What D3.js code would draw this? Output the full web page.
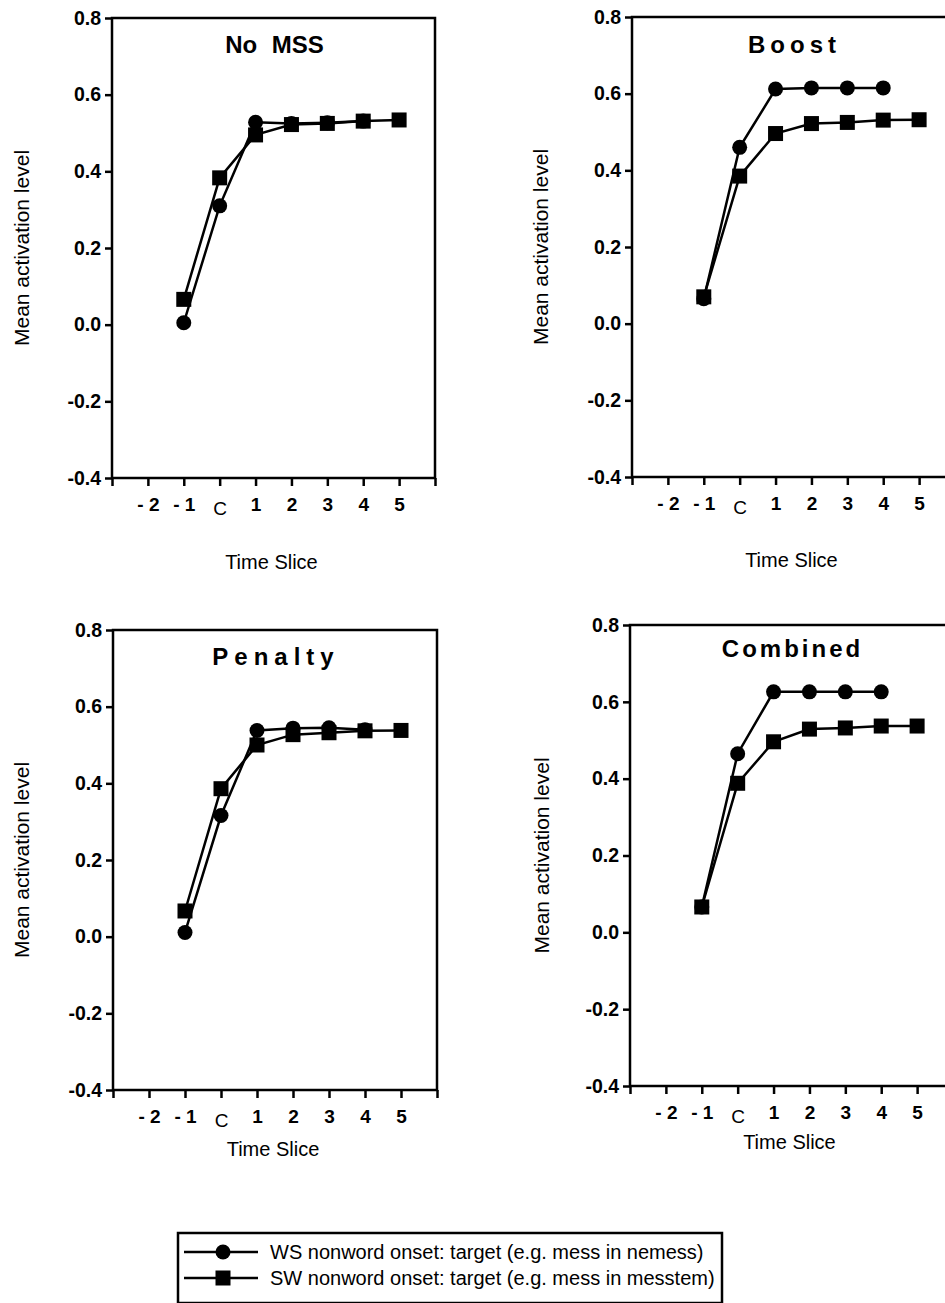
<html>
<head>
<script src="https://d3js.org/d3.v7.min.js"></script>
<style>
  body { margin: 0; background: #fff; }
  svg text { font-family: "Liberation Sans", Arial, sans-serif; fill: #000; }
  .tick line { stroke: #000; stroke-width: 2.5; }
  .tick text { font-weight: bold; }
  .yax .tick text { font-size: 19.5px; }
  .xax .tick text { font-size: 19px; }
</style>
</head>
<body>
<svg width="945" height="1303"></svg>
<script>
// time slices along x ("start"/"end" are the blank axis ends)
const sliceLabels = ["start", "-2", "-1", "C", "1", "2", "3", "4", "5", "end"];
const wsSlices = ["-1", "C", "1", "2", "3", "4"];
const swSlices = ["-1", "C", "1", "2", "3", "4", "5"];
const yTicks = [-0.4, -0.2, 0.0, 0.2, 0.4, 0.6, 0.8];
const panelTitles = ["No MSS", "Boost", "Penalty", "Combined"];
const seriesNames = ["WS nonword onset: target (e.g. mess in nemess)",
                     "SW nonword onset: target (e.g. mess in messtem)"];

// mean activation values
const wsNoMss    = [0.005, 0.310, 0.528, 0.525, 0.527, 0.531];
const swNoMss    = [0.066, 0.383, 0.495, 0.522, 0.525, 0.531, 0.534];
const wsBoost    = [0.065, 0.460, 0.612, 0.615, 0.615, 0.615];
const swBoost    = [0.070, 0.385, 0.496, 0.522, 0.525, 0.531, 0.532];
const wsPenalty  = [0.011, 0.316, 0.538, 0.544, 0.545, 0.540];
const swPenalty  = [0.067, 0.386, 0.500, 0.527, 0.532, 0.537, 0.538];
const wsCombined = [0.066, 0.465, 0.626, 0.626, 0.626, 0.626];
const swCombined = [0.066, 0.388, 0.496, 0.529, 0.532, 0.537, 0.537];

const svg = d3.select("svg");

// layout of the four panels
const panels = [
  {ws: wsNoMss, sw: swNoMss, left: 112, right: 435, top: 18, bottom: 478, titleY: 53, titleSp: 0, wordSp: 8, ylabX: 29, xlabY: 569},
  {ws: wsBoost, sw: swBoost, left: 632, right: 955, top: 17, bottom: 477, titleY: 53, titleSp: 5, wordSp: 0, ylabX: 548, xlabY: 567},
  {ws: wsPenalty, sw: swPenalty, left: 113, right: 437, top: 630, bottom: 1090, titleY: 665, titleSp: 6, wordSp: 0, ylabX: 29, xlabY: 1156},
  {ws: wsCombined, sw: swCombined, left: 630, right: 953, top: 625, bottom: 1086, titleY: 657, titleSp: 3, wordSp: 0, ylabX: 549, xlabY: 1149}
];

panels.forEach((p, i) => {
  const x = d3.scalePoint().domain(sliceLabels).range([p.left, p.right]).padding(0);
  const y = d3.scaleLinear().domain([-0.4, 0.8]).range([p.bottom, p.top]);
  const g = svg.append("g");

  // frame
  g.append("rect")
    .attr("x", p.left).attr("y", p.top)
    .attr("width", p.right - p.left).attr("height", p.bottom - p.top)
    .attr("fill", "none").attr("stroke", "#000").attr("stroke-width", 2.5);

  const ya = g.append("g").attr("class", "yax")
    .attr("transform", "translate(" + p.left + ",0)")
    .call(d3.axisLeft(y).tickValues(yTicks).tickSize(7).tickSizeOuter(0).tickPadding(4)
      .tickFormat(d => d.toFixed(1)));
  ya.select(".domain").remove();

  const xa = g.append("g").attr("class", "xax")
    .attr("transform", "translate(0," + p.bottom + ")")
    .call(d3.axisBottom(x).tickSize(8).tickSizeOuter(0).tickPadding(12)
      .tickFormat(d => d == "start" || d == "end" ? "" : d.replace("-", "- ")));
  xa.select(".domain").remove();
  xa.selectAll(".tick text").filter(d => d == "C")
    .style("font-weight", "normal").attr("dy", "0.88em");

  // title
  g.append("text")
    .attr("x", (p.left + Math.min(p.right, 955)) / 2 + 1)
    .attr("y", p.titleY)
    .attr("text-anchor", "middle")
    .style("font-size", "24px").style("font-weight", "bold")
    .style("letter-spacing", p.titleSp + "px")
    .style("word-spacing", p.wordSp + "px")
    .text(panelTitles[i]);

  // axis titles
  g.append("text")
    .attr("transform", "translate(" + p.ylabX + "," + ((p.top + p.bottom) / 2) + ") rotate(-90)")
    .attr("text-anchor", "middle")
    .style("font-size", "21px")
    .text("Mean activation level");
  g.append("text")
    .attr("x", p.left + 5 * (p.right - p.left) / 9 - 20)
    .attr("y", p.xlabY)
    .attr("text-anchor", "middle")
    .style("font-size", "20px")
    .text("Time Slice");

  const line = d3.line().x(d => x(d[0])).y(d => y(d[1]));
  const sw = swSlices.map((s, k) => [s, p.sw[k]]);
  const ws = wsSlices.map((s, k) => [s, p.ws[k]]);

  g.append("path").datum(sw).attr("d", line)
    .attr("fill", "none").attr("stroke", "#000").attr("stroke-width", 2.5);
  g.append("path").datum(ws).attr("d", line)
    .attr("fill", "none").attr("stroke", "#000").attr("stroke-width", 2.5);

  g.selectAll(".sq").data(sw).enter().append("rect")
    .attr("x", d => x(d[0]) - 7.5).attr("y", d => y(d[1]) - 7.5)
    .attr("width", 15).attr("height", 15).attr("fill", "#000");
  g.selectAll(".ci").data(ws).enter().append("circle")
    .attr("cx", d => x(d[0])).attr("cy", d => y(d[1]))
    .attr("r", 7.5).attr("fill", "#000");
});

// legend
const leg = svg.append("g");
leg.append("rect")
  .attr("x", 178).attr("y", 1233).attr("width", 544).attr("height", 70)
  .attr("fill", "none").attr("stroke", "#000").attr("stroke-width", 2.5);
seriesNames.forEach((name, i) => {
  const yy = 1252 + i * 26;
  leg.append("line").attr("x1", 184).attr("x2", 258).attr("y1", yy).attr("y2", yy)
    .attr("stroke", "#000").attr("stroke-width", 2.5);
  if (i == 0) {
    leg.append("circle").attr("cx", 223).attr("cy", yy).attr("r", 7.5).attr("fill", "#000");
  } else {
    leg.append("rect").attr("x", 215.5).attr("y", yy - 7.5).attr("width", 15).attr("height", 15).attr("fill", "#000");
  }
  leg.append("text").attr("x", 270).attr("y", yy + 7)
    .style("font-size", "20px")
    .text(name);
});
</script>
</body>
</html>
